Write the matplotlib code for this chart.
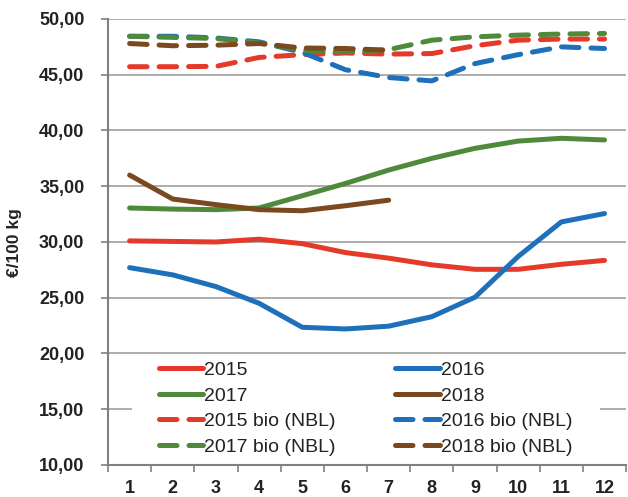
import matplotlib
matplotlib.use("Agg")
import matplotlib.pyplot as plt
from matplotlib.patches import Rectangle
from matplotlib.ticker import FixedLocator, FuncFormatter

plt.rcParams['font.family'] = ['Liberation Sans', 'DejaVu Sans']

months = [1, 2, 3, 4, 5, 6, 7, 8, 9, 10, 11, 12]

s2015 = [30.1, 30.05, 30.0, 30.25, 29.85, 29.05, 28.55, 27.95, 27.55, 27.55, 28.0, 28.35]
s2016 = [27.7, 27.05, 26.0, 24.5, 22.35, 22.2, 22.45, 23.3, 25.05, 28.7, 31.8, 32.55]
s2017 = [33.05, 32.95, 32.9, 33.05, 34.15, 35.25, 36.45, 37.5, 38.4, 39.05, 39.3, 39.15]
s2018 = [36.0, 33.85, 33.35, 32.9, 32.8, 33.25, 33.75]

b2015 = [45.72, 45.72, 45.75, 46.55, 46.8, 46.95, 46.85, 46.9, 47.6, 48.1, 48.2, 48.2]
b2016 = [48.45, 48.45, 48.3, 47.95, 47.0, 45.45, 44.75, 44.45, 46.0, 46.8, 47.5, 47.35]
b2017 = [48.45, 48.35, 48.25, 47.85, 47.2, 47.05, 47.25, 48.1, 48.4, 48.55, 48.65, 48.7]
b2018 = [47.8, 47.6, 47.65, 47.8, 47.4, 47.35, 47.2]

labels = ["2015", "2016", "2017", "2018",
          "2015 bio (NBL)", "2016 bio (NBL)", "2017 bio (NBL)", "2018 bio (NBL)"]

RED = "#E53A2A"
BLUE = "#1F70BA"
GREEN = "#4F8A3B"
BROWN = "#7A491F"

fig = plt.figure(figsize=(6.28, 4.97), dpi=100)
ax = fig.add_axes([0.172, 0.0644, 0.825, 0.8974])

lw = 3.6
dash = (3.5, 2.4)
h = {}
h["2015"], = ax.plot(months, s2015, color=RED, lw=lw, solid_capstyle='round', solid_joinstyle='round', label=labels[0])
h["2016"], = ax.plot(months, s2016, color=BLUE, lw=lw, solid_capstyle='round', solid_joinstyle='round', label=labels[1])
h["2017"], = ax.plot(months, s2017, color=GREEN, lw=lw, solid_capstyle='round', solid_joinstyle='round', label=labels[2])
h["2018"], = ax.plot(months[:len(s2018)], s2018, color=BROWN, lw=lw, solid_capstyle='round', solid_joinstyle='round', label=labels[3])
h["2015b"], = ax.plot(months, b2015, color=RED, lw=lw, ls=(0, dash), dash_capstyle='round', label=labels[4])
h["2016b"], = ax.plot(months, b2016, color=BLUE, lw=lw, ls=(0, dash), dash_capstyle='round', label=labels[5])
h["2017b"], = ax.plot(months, b2017, color=GREEN, lw=lw, ls=(0, dash), dash_capstyle='round', label=labels[6])
h["2018b"], = ax.plot(months[:len(b2018)], b2018, color=BROWN, lw=lw, ls=(0, dash), dash_capstyle='round', label=labels[7])

ax.set_xlim(0.5, 12.5)
ax.set_ylim(10, 50)
ax.yaxis.set_major_locator(FixedLocator([10, 15, 20, 25, 30, 35, 40, 45, 50]))
ax.yaxis.set_major_formatter(FuncFormatter(lambda v, p: f"{v:.2f}".replace(".", ",")))
ax.set_xticks(months)
ax.set_xticks([m + 0.5 for m in [0] + months], minor=True)
ax.tick_params(axis='x', which='major', length=0, pad=10.5, labelsize=13)
ax.tick_params(axis='x', which='minor', length=5, width=1.2, color="#808080", direction='out')
ax.tick_params(axis='y', which='major', length=5, width=1.2, color="#808080", direction='out', labelsize=13, pad=12)
for lab in ax.get_xticklabels() + ax.get_yticklabels():
    lab.set_fontweight('bold')
    lab.set_color("#222222")

ax.grid(axis='y', color="#A6A6A6", lw=1.3)
ax.set_axisbelow(True)
for s in ["top", "right"]:
    ax.spines[s].set_visible(False)
for s in ["left", "bottom"]:
    ax.spines[s].set_color("#808080")
    ax.spines[s].set_linewidth(1.5)

ax.set_ylabel("€/100 kg", fontsize=12.5, fontweight='bold', va='center', ha='center', color="#222222")
ax.yaxis.set_label_coords(-0.181, 0.499)

# white legend background (covers the gridline behind the legend only)
ax.add_patch(Rectangle((0.046, 0.006), 0.904, 0.229, transform=ax.transAxes,
                       facecolor='white', edgecolor='none', zorder=1))

order = ["2015", "2017", "2015b", "2017b", "2016", "2018", "2016b", "2018b"]
leg = ax.legend([h[k] for k in order], [h[k].get_label() for k in order],
                ncol=2, loc='upper center', bbox_to_anchor=(0.497, 0.232),
                frameon=False, fontsize=14, handlelength=2.3, handletextpad=0.05,
                columnspacing=3.05, labelspacing=0.41, borderpad=0.0,
                borderaxespad=0.0)
for t in leg.get_texts():
    t.set_color("#222222")

fig.savefig("out.png", dpi=100)
